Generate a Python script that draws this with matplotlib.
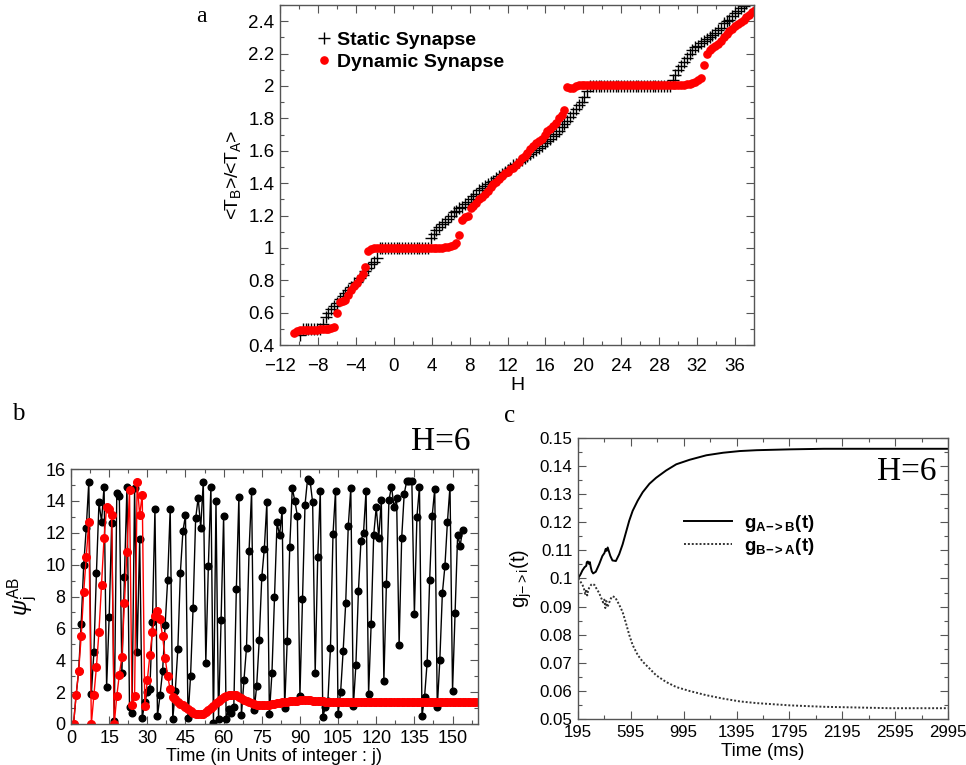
import numpy as np
import matplotlib.pyplot as plt
from matplotlib.ticker import MultipleLocator, FuncFormatter

plt.rcParams['font.family'] = ['Liberation Sans', 'DejaVu Sans']
plt.rcParams['font.size'] = 13
plt.rcParams['mathtext.fontset'] = 'custom'
plt.rcParams['mathtext.rm'] = 'Liberation Sans'
plt.rcParams['mathtext.it'] = 'Liberation Sans:italic'
plt.rcParams['mathtext.bf'] = 'Liberation Sans:bold'

# ---- panel a : <T_B>/<T_A> against H (grid of H with step 0.3) ----
h_static_start, h_dynamic_start, h_step = -9.9, -10.5, 0.3
static_ratio = [
    0.46, 0.50, 0.50, 0.50, 0.50, 0.50, 0.50, 0.50,
    0.53, 0.57, 0.60, 0.62, 0.64, 0.66, 0.685, 0.70, 0.72, 0.74,
    0.76, 0.78, 0.79, 0.815, 0.835, 0.855, 0.875, 0.90, 0.915, 0.935,
    1.0, 1.0, 1.0, 1.0, 1.0, 1.0, 1.0, 1.0, 1.0,
    1.0, 1.0, 1.0, 1.0, 1.0, 1.0, 1.0, 1.0, 1.0,
    1.06, 1.085, 1.11, 1.13, 1.145, 1.16, 1.18, 1.20, 1.22, 1.23,
    1.245, 1.255, 1.27, 1.285, 1.30, 1.32, 1.335, 1.355, 1.37, 1.385,
    1.395, 1.405, 1.415, 1.43, 1.445, 1.455, 1.47, 1.48, 1.495, 1.51,
    1.52, 1.53, 1.545, 1.555, 1.565, 1.58, 1.59, 1.605, 1.615, 1.63,
    1.645, 1.66, 1.675, 1.69, 1.705, 1.72, 1.745, 1.765, 1.785, 1.81,
    1.835, 1.86, 1.88, 1.90, 1.93, 1.97,
    2.0, 2.0, 2.0, 2.0, 2.0, 2.0, 2.0, 2.0, 2.0, 2.0,
    2.0, 2.0, 2.0, 2.0, 2.0, 2.0, 2.0, 2.0, 2.0, 2.0,
    2.0, 2.0, 2.0, 2.0, 2.0, 2.0, 2.0, 2.0, 2.0,
    2.04, 2.07, 2.10, 2.125, 2.15, 2.175, 2.195, 2.22, 2.24, 2.25,
    2.265, 2.28, 2.29, 2.30, 2.315, 2.33, 2.345, 2.36, 2.39, 2.40,
    2.41, 2.43, 2.45, 2.465, 2.48, 2.495, 2.51,
]
dynamic_ratio = [
    0.472, 0.485, 0.49, 0.495, 0.495, 0.495, 0.495, 0.495, 0.495, 0.497,
    0.498, 0.50, 0.502, 0.507, 0.513, 0.60, 0.665, 0.672, 0.68, 0.71,
    0.74, 0.765, 0.785, 0.815, 0.84, 0.88, 0.98, 0.995,
    1.0, 1.0, 1.0, 1.0, 1.0, 1.0, 1.0, 1.0, 1.0, 1.0, 1.0, 1.0, 1.0,
    1.0, 1.0, 1.0, 1.0, 1.0, 1.0, 1.0, 1.0, 1.0, 1.0, 1.0, 1.0,
    1.003, 1.006, 1.01, 1.018, 1.03, 1.077, 1.175, 1.19, 1.20, 1.245,
    1.26, 1.275, 1.30, 1.315, 1.33, 1.35, 1.375, 1.395, 1.41, 1.425,
    1.445, 1.46, 1.47, 1.485, 1.495, 1.51, 1.53, 1.555, 1.57, 1.585,
    1.61, 1.63, 1.645, 1.66, 1.675, 1.695, 1.72, 1.735, 1.755, 1.77,
    1.80, 1.82, 1.85, 1.994, 1.99, 1.99, 2.003, 2.006,
    2.005, 2.005, 2.005, 2.005, 2.005, 2.005, 2.005, 2.005, 2.005, 2.005,
    2.005, 2.005, 2.005, 2.005, 2.005, 2.005, 2.005, 2.005, 2.005, 2.005,
    2.005, 2.005, 2.005, 2.005, 2.005, 2.005, 2.005, 2.005, 2.005, 2.005,
    2.005, 2.005, 2.005, 2.006, 2.006, 2.008, 2.008, 2.010,
    2.014, 2.018, 2.024, 2.035, 2.05, 2.13, 2.20, 2.22, 2.232, 2.245,
    2.262, 2.28, 2.305, 2.32, 2.338, 2.355, 2.37, 2.38, 2.395, 2.41,
    2.425, 2.44, 2.455, 2.47,
]

# ---- panel b : psi_j^AB, j = 1, 2, ... ----
psi_static = [
    0, 1.8, 3.3, 6.3, 10.0, 12.3, 15.2, 1.9, 4.5, 9.5,
    13.9, 12.7, 14.9, 2.3, 6.7, 12.6, 0.2, 14.5, 14.3, 3.2,
    9.2, 14.9, 1.05, 0.7, 14.8, 4.5, 11.6, 0.36,
    1.37, 2.0, 2.2, 6.4, 13.5, 0.5, 1.8, 3.3, 6.2, 9.05,
    13.5, 0.3, 2.1, 4.7, 9.5, 12.1, 13.1, 0.4, 3.0, 7.3,
    12.9, 14.2, 12.3, 15.2, 3.85, 9.9,
    14.9, 0.05, 14.0, 0.3, 6.5, 13.05, 0.3, 0.95, 0.7, 1.05,
    8.45, 14.25, 0.57, 2.75, 4.8, 10.85, 14.6, 0.85, 2.4, 5.25,
    9.2, 11.0, 13.9, 0.65, 3.2, 8.0, 12.65, 11.85, 13.4, 1.0,
    5.2, 11.1, 14.8, 14.0, 13.05, 1.75, 7.85, 13.75, 15.37, 15.25,
    13.9, 3.2, 10.45, 14.65, 0.45, 1.05, 1.45, 4.75, 11.9, 14.65,
    0.6, 2.0, 4.6, 7.6, 12.4, 14.8, 1.1, 3.7, 8.35, 11.5,
    12.0, 14.65, 1.9, 6.25, 11.85, 13.6, 11.7, 14.05, 2.7, 8.8,
    14.05, 14.9, 13.6, 14.2, 4.95, 11.65, 14.45, 15.25, 15.25, 15.25,
    6.9, 13.0, 14.9, 0.5, 1.7, 3.85, 9.05, 13.05, 14.75, 1.05,
    4.0, 8.2, 9.9, 12.7, 14.9, 2.1, 6.95, 11.85, 11.2, 12.2,
]
psi_dynamic = [
    0, 1.8, 3.3, 5.5, 8.3, 10.5, 12.7, 0, 1.8, 3.6,
    5.8, 8.7, 11.7, 13.6, 13.5, 13.1, 0, 1.75, 3.1, 4.2,
    7.6, 10.8, 14.7, 1.2, 1.75, 15.2, 13.1, 14.4, 1.1, 2.75,
    4.3, 5.75, 6.8, 7.1, 6.6, 5.5, 4.15, 3.0, 2.17, 1.7,
    1.55, 1.4, 1.28, 1.17, 1.05, 0.92, 0.8, 0.7, 0.63, 0.6,
    0.6, 0.65, 0.74, 0.86, 1.0, 1.15, 1.3, 1.45, 1.58, 1.68,
    1.76, 1.82, 1.84, 1.83, 1.79, 1.72, 1.63, 1.53, 1.44, 1.36,
    1.29, 1.24, 1.2, 1.18, 1.17, 1.17, 1.18, 1.2, 1.23, 1.26,
    1.29, 1.32, 1.35, 1.38, 1.4, 1.42, 1.44, 1.46, 1.47, 1.48,
    1.49, 1.49, 1.49, 1.48, 1.47, 1.46, 1.45, 1.43, 1.42, 1.4,
    1.39, 1.38, 1.37, 1.36, 1.36, 1.35, 1.35, 1.35, 1.35, 1.36,
    1.36, 1.36, 1.37, 1.37, 1.37, 1.38, 1.38, 1.38, 1.38, 1.38,
    1.38, 1.38, 1.37, 1.37, 1.37, 1.37, 1.36, 1.36, 1.36, 1.36,
    1.36, 1.36, 1.36, 1.36, 1.36, 1.36, 1.36, 1.36, 1.36, 1.36,
    1.36, 1.36, 1.36, 1.36, 1.36, 1.36, 1.36, 1.36, 1.36, 1.36,
    1.36, 1.36, 1.36, 1.36, 1.36, 1.36, 1.36, 1.36, 1.36, 1.36,
]

# ---- panel c : synaptic conductances ----
t_ab = [195, 215, 228, 245, 258, 262, 270, 278, 285, 292, 300, 310, 330, 355,
        380, 395, 405, 412, 420, 430, 440, 456, 482, 507, 533, 558, 583, 609,
        647, 685, 736, 786, 862, 939, 1040, 1167, 1294, 1421, 1548, 1801,
        2055, 2995]
g_ab = [0.1, 0.1015, 0.1028, 0.104, 0.1045, 0.1058, 0.106, 0.1052, 0.1058,
        0.104, 0.1025, 0.1018, 0.1024, 0.105, 0.108, 0.109, 0.1105, 0.1098,
        0.111, 0.1095, 0.108, 0.1064, 0.1062, 0.1086, 0.1121, 0.1163, 0.1205,
        0.124, 0.1276, 0.1306, 0.1336, 0.1357, 0.1383, 0.1405, 0.1421,
        0.1437, 0.1446, 0.1452, 0.1455, 0.1458, 0.146, 0.146]
t_ba = [195, 215, 228, 240, 250, 258, 265, 272, 280, 295, 305, 320, 340, 355,
        370, 385, 395, 402, 410, 418, 430, 445, 456, 477, 507, 533, 558, 583,
        609, 647, 685, 736, 786, 862, 939, 1040, 1167, 1294, 1421, 1548, 1801,
        2055, 2563, 2995]
g_ba = [0.1, 0.0988, 0.0979, 0.0965, 0.0945, 0.0962, 0.094, 0.0958, 0.0967,
        0.0978, 0.0981, 0.0977, 0.096, 0.0949, 0.0932, 0.0915, 0.0925, 0.0895,
        0.092, 0.0898, 0.0913, 0.093, 0.0937, 0.0933, 0.0907, 0.0881, 0.0842,
        0.08, 0.0764, 0.0729, 0.0705, 0.0681, 0.0657, 0.0633, 0.0615, 0.0601,
        0.0586, 0.0574, 0.0564, 0.0558, 0.055, 0.0545, 0.054, 0.054]


def fmt(v, pos):
    return f'{v:g}'.replace('-', '\u2212')


def style(ax, xmaj, xmin, ymaj, ymin, xoff=0, size=13):
    ax.xaxis.set_major_locator(MultipleLocator(xmaj, offset=xoff))
    ax.xaxis.set_minor_locator(MultipleLocator(xmin, offset=xoff))
    ax.yaxis.set_major_locator(MultipleLocator(ymaj))
    ax.yaxis.set_minor_locator(MultipleLocator(ymin))
    ax.xaxis.set_major_formatter(FuncFormatter(fmt))
    ax.yaxis.set_major_formatter(FuncFormatter(fmt))
    ax.tick_params(which='both', direction='in', top=True, right=True,
                   color='#555555', width=0.8, pad=4, labelsize=size)
    ax.tick_params(which='major', length=6)
    ax.tick_params(which='minor', length=3)
    for s in ax.spines.values():
        s.set_color('#555555')
        s.set_linewidth(1.0)


fig = plt.figure(figsize=(9.66, 7.65), dpi=100)

# panel a
ax_a = fig.add_axes([0.2899, 0.549, 0.4907, 0.4444])
h_static = h_static_start + h_step * np.arange(len(static_ratio))
h_dynamic = h_dynamic_start + h_step * np.arange(len(dynamic_ratio))
ax_a.plot(h_static, static_ratio, '+', color='black', ms=8, mew=1.0,
          label='Static Synapse')
ax_a.plot(h_dynamic, dynamic_ratio, 'o', color='red', ms=5.2, mec='red',
          label='Dynamic Synapse')
ax_a.set_xlim(-12, 38)
ax_a.set_ylim(0.4, 2.5)
style(ax_a, 4, 2, 0.2, 0.1, size=13.5)
ax_a.tick_params(axis='x', pad=9)
ax_a.set_xlabel('H', labelpad=2, fontsize=14)
ax_a.set_ylabel(r'<T$_\mathregular{B}$>/<T$_\mathregular{A}$>', labelpad=4,
                fontsize=14)
ax_a.legend(loc='upper left', bbox_to_anchor=(0.035, 0.975), frameon=False,
            prop={'weight': 'bold', 'size': 14}, handletextpad=0.2,
            handlelength=1.0, labelspacing=0.25)

# panel b
ax_b = fig.add_axes([0.0735, 0.0536, 0.4213, 0.3333])
j_static = np.arange(1, len(psi_static) + 1)
j_dynamic = np.arange(1, len(psi_dynamic) + 1)
ax_b.plot(j_static, psi_static, '-o', color='black', ms=4.8, lw=1.0)
ax_b.plot(j_dynamic, psi_dynamic, '-o', color='red', ms=5.5, lw=1.0)
ax_b.set_xlim(0, 160)
ax_b.set_ylim(0, 16)
style(ax_b, 15, 7.5, 2, 1)
ax_b.set_xlabel('Time (in Units of integer : j)', labelpad=1)
ax_b.set_ylabel(r'$\psi^{\mathregular{AB}}_{\mathregular{j}}$', labelpad=4,
                fontsize=16)

# panel c
ax_c = fig.add_axes([0.5983, 0.0595, 0.383, 0.3686])
ax_c.plot(t_ab, g_ab, '-', color='black', lw=1.4,
          label=r'$\mathbf{g_{A{-}{>}B}(t)}$')
ax_c.plot(t_ba, g_ba, linestyle=(0, (1, 1)), color='#333333', lw=1.4,
          label=r'$\mathbf{g_{B{-}{>}A}(t)}$')
ax_c.set_xlim(195, 2995)
ax_c.set_ylim(0.05, 0.15)
style(ax_c, 400, 200, 0.01, 0.005, xoff=195, size=12.2)
ax_c.set_xlabel('Time (ms)', labelpad=2, fontsize=13.5)
ax_c.set_ylabel(r'g$_\mathregular{j{-}{>}i}$(t)', labelpad=4, fontsize=14.5)
ax_c.legend(loc='center left', bbox_to_anchor=(0.24, 0.655), frameon=False,
            prop={'weight': 'bold', 'size': 13.5}, handlelength=2.6,
            handletextpad=0.6, labelspacing=0.1)
ax_c.text(0.89, 0.88, 'H=6', transform=ax_c.transAxes, ha='center',
          va='center', fontsize=24, family='Liberation Serif')

fig.text(441 / 966, 1 - 442 / 765, 'H=6', ha='center', va='center',
         fontsize=24, family='Liberation Serif')
fig.text(201 / 966, 1 - 17 / 765, 'a', ha='center', va='center',
         fontsize=17, family='Liberation Serif')
fig.text(18 / 966, 1 - 414 / 765, 'b', ha='center', va='center',
         fontsize=18, family='Liberation Serif')
fig.text(510 / 966, 1 - 416 / 765, 'c', ha='center', va='center',
         fontsize=18, family='Liberation Serif')

fig.savefig('out.png', dpi=100)
